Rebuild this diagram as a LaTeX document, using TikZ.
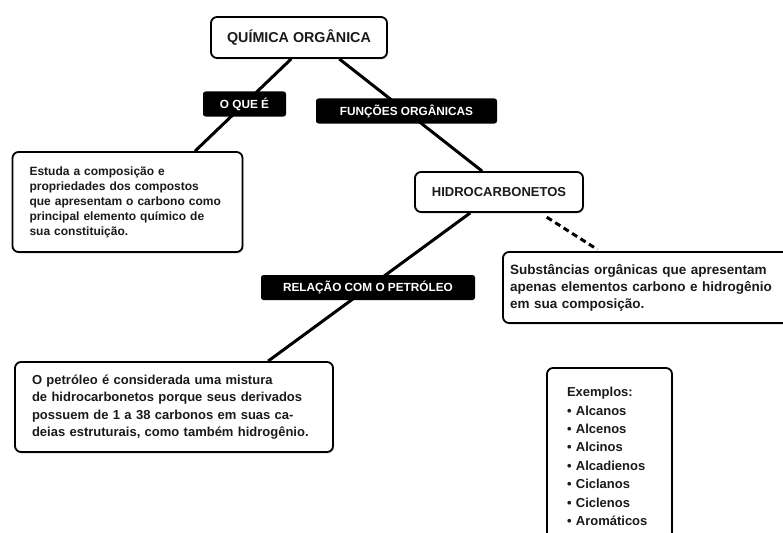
\documentclass[tikz,border=0pt]{standalone}
\usepackage{fontspec}
\setmainfont{Liberation Sans}
\usetikzlibrary{shadows}
\definecolor{ink}{HTML}{1A1A1A}

\begin{document}
\begin{tikzpicture}[x=1pt, y=-1pt,
  box/.style={draw, rounded corners=6pt, line width=1.8pt, fill=white, text=ink,
    drop shadow={shadow xshift=1pt, shadow yshift=-1.5pt, opacity=0.3}},
  tag/.style={fill=black, rounded corners=2.5pt, text=white, inner sep=0pt, minimum height=25pt,
    font=\bfseries\fontsize{11.8}{14}\selectfont},
  link/.style={line width=3pt}]
\useasboundingbox (0,0) rectangle (783,532);
% main boxes
\node[box, minimum width=176pt, minimum height=41pt, font=\bfseries\fontsize{14.3}{17}\selectfont] (quim) at (299,37.5) {QUÍMICA ORGÂNICA};
\node[box, text width=196pt, inner xsep=17pt, minimum height=100pt, align=left, font=\bfseries\fontsize{12}{15}\selectfont] (estuda) at (127.5,202) {Estuda a composição e\\ propriedades dos compostos\\ que apresentam o carbono como\\ principal elemento químico de\\ sua constituição.};
\node[box, minimum width=168pt, minimum height=40pt, font=\bfseries\fontsize{13}{16}\selectfont] (hidro) at (499,192) {HIDROCARBONETOS};
\node[box, text width=273pt, inner xsep=7pt, minimum height=71pt, align=left, font=\bfseries\fontsize{13.5}{17}\selectfont] (subst) at (646.5,287.5) {Substâncias orgânicas que apresentam\\ apenas elementos carbono e hidrogênio\\ em sua composição.};
\node[box, text width=284pt, inner xsep=17pt, minimum height=90pt, align=left, font=\bfseries\fontsize{13}{17.5}\selectfont] (petroleo) at (174,407) {O petróleo é considerada uma mistura\\ de hidrocarbonetos porque seus derivados\\ possuem de 1 a 38 carbonos em suas ca-\\ deias estruturais, como também hidrogênio.};
\node[box, text width=85pt, inner xsep=20pt, minimum height=177pt, align=left, font=\bfseries\fontsize{13}{18.4}\selectfont] (exemplos) at (609.5,456.5) {Exemplos:\\ • Alcanos\\ • Alcenos\\ • Alcinos\\ • Alcadienos\\ • Ciclanos\\ • Ciclenos\\ • Aromáticos};
% connectors
\draw[link] (quim.250) -- (estuda.37);
\draw[link] (quim.-28) -- (hidro.129);
\draw[link] (hidro.216) -- (petroleo.26);
\draw[link, dash pattern=on 6pt off 4pt, shorten <=8pt, shorten >=3pt] (hidro.-27) -- (subst.142);
% labels on the connectors
\node[tag, minimum width=83pt] (oque) at (244.5,104) {O QUE É};
\node[tag, minimum width=181pt] (funcoes) at (406.5,111) {FUNÇÕES ORGÂNICAS};
\node[tag, minimum width=214pt] (relacao) at (368,287.5) {RELAÇÃO COM O PETRÓLEO};
\end{tikzpicture}
\end{document}
